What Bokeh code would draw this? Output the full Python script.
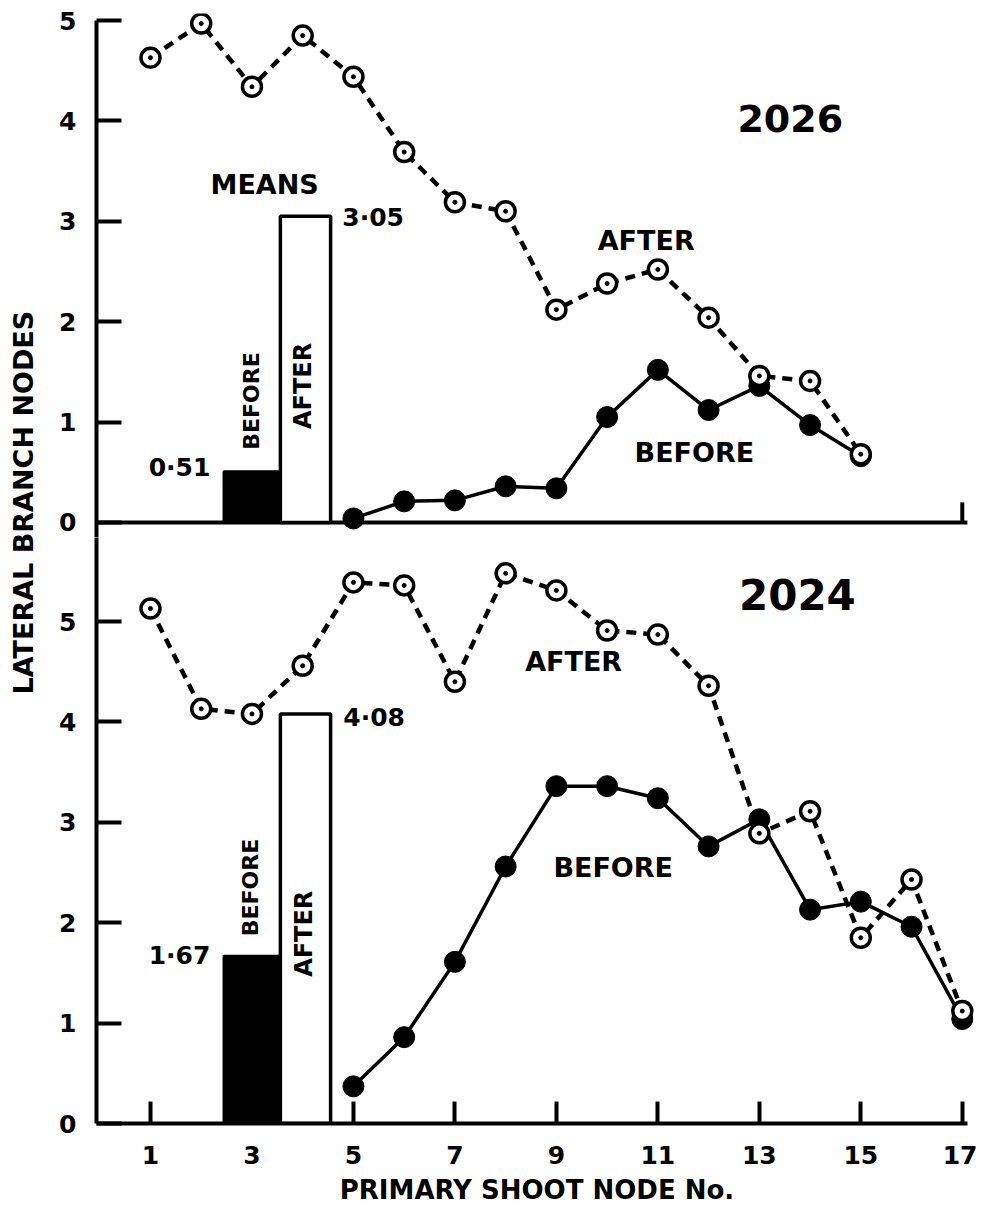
import math
from bokeh.plotting import figure
from bokeh.layouts import row, column
from bokeh.models import Range1d, FixedTicker, Label
from bokeh.embed import file_html
from bokeh.resources import INLINE

# ---------------- data ----------------
NODES_2026_AFTER = list(range(1, 16))
AFTER_2026 = [4.63, 4.97, 4.34, 4.85, 4.44, 3.69, 3.19, 3.10, 2.12, 2.38, 2.52, 2.04, 1.46, 1.41, 0.68]
NODES_2026_BEFORE = list(range(5, 16))
BEFORE_2026 = [0.04, 0.21, 0.22, 0.36, 0.34, 1.05, 1.52, 1.12, 1.36, 0.97, 0.66]

NODES_2024_AFTER = list(range(1, 18))
AFTER_2024 = [5.13, 4.13, 4.08, 4.56, 5.39, 5.36, 4.40, 5.48, 5.31, 4.91, 4.87, 4.36, 2.89, 3.11, 1.85, 2.43, 1.12]
NODES_2024_BEFORE = list(range(5, 18))
BEFORE_2024 = [0.37, 0.86, 1.61, 2.56, 3.36, 3.36, 3.24, 2.76, 3.03, 2.13, 2.21, 1.96, 1.04]

MEANS_2026 = [0.51, 3.05]   # before, after
MEANS_2024 = [1.67, 4.08]

X_TICKS = [1, 3, 5, 7, 9, 11, 13, 15, 17]
Y_TICKS = [0, 1, 2, 3, 4, 5]

# ---------------- style / layout ----------------
FONT = "DejaVu Sans"
BAR_LEFT = [2.44, 3.56]
BAR_RIGHT = [3.56, 4.55]
LW_AXIS = 4
FIG_W = 933
X_START, X_AXIS_END, X_END = -0.064, 17.1, 17.3
X_RANGE = Range1d(X_START, X_END)


def fmt(v):
    return f"{v:.2f}".replace(".", "\u00b7")


def make_panel(height, y_start, y_end, b_top, b_bottom):
    p = figure(width=FIG_W, height=height, x_range=X_RANGE,
               y_range=Range1d(y_start, y_end), output_backend="svg",
               toolbar_location=None, min_border_left=52, min_border_right=0,
               min_border_top=b_top, min_border_bottom=b_bottom)
    p.grid.visible = False
    p.outline_line_color = None
    p.background_fill_color = "white"
    ya = p.yaxis[0]
    ya.ticker = FixedTicker(ticks=Y_TICKS)
    ya.axis_line_width = LW_AXIS
    ya.major_tick_line_width = LW_AXIS
    ya.major_tick_in = 25
    ya.major_tick_out = 0
    ya.minor_tick_line_color = None
    ya.major_label_standoff = 20
    ya.major_label_text_font = FONT
    ya.major_label_text_font_style = "bold"
    ya.major_label_text_font_size = "25px"
    ya.major_label_text_color = "black"
    return p


def txt(p, x, y, s, size, align="center", angle=0.0):
    p.add_layout(Label(x=x, y=y, text=s, text_font=FONT, text_font_style="bold",
                       text_font_size=f"{size}px", text_align=align,
                       text_baseline="middle", angle=angle, text_color="black"))


def draw_series(p, means, nb, before, na, after):
    # mean bars
    p.quad(left=[BAR_LEFT[0]], right=[BAR_RIGHT[0]], bottom=[0], top=[means[0]],
           fill_color="black", line_color="black", line_width=2)
    p.quad(left=[BAR_LEFT[1]], right=[BAR_RIGHT[1]], bottom=[0], top=[means[1]],
           fill_color="white", line_color="black", line_width=3.5)
    # before: solid line, filled circles
    p.line(nb, before, line_color="black", line_width=3.5)
    p.scatter(nb, before, marker="circle", size=21, fill_color="black", line_color="black")
    # after: dashed line, open circles with centre dot
    p.line(na, after, line_color="black", line_width=4.5, line_dash="10 7")
    p.scatter(na, after, marker="circle", size=19, fill_color="white",
              line_color="black", line_width=3.5)
    p.scatter(na, after, marker="circle", size=4, fill_color="black", line_color="black")


# ---------------- top panel (2026) ----------------
top = make_panel(537, -0.15, 5.07, 13, 0)
top.xaxis.visible = False
top.yaxis[0].bounds = (-0.15, 5)
top.segment(x0=[X_START], y0=[0], x1=[X_AXIS_END], y1=[0], line_color="black",
            line_width=LW_AXIS)
top.segment(x0=[X_TICKS[-1]], y0=[0], x1=[X_TICKS[-1]], y1=[0.2], line_color="black",
            line_width=LW_AXIS)
draw_series(top, MEANS_2026, NODES_2026_BEFORE, BEFORE_2026, NODES_2026_AFTER, AFTER_2026)

txt(top, 3.25, 3.37, "MEANS", 27)
txt(top, 4.78, 3.04, fmt(MEANS_2026[1]), 25, align="left")
txt(top, 2.18, 0.55, fmt(MEANS_2026[0]), 25, align="right")
txt(top, 2.99, 1.21, "BEFORE", 22, angle=math.pi / 2)
txt(top, 4.01, 1.36, "AFTER", 24, angle=math.pi / 2)
txt(top, 10.77, 2.81, "AFTER", 27)
txt(top, 11.72, 0.70, "BEFORE", 27)
txt(top, 13.61, 4.02, "2026", 38)

# ---------------- bottom panel (2024) ----------------
bot = make_panel(670, 0, 5.837, 0, 84)
xa = bot.xaxis[0]
xa.bounds = (X_START, X_AXIS_END)
xa.ticker = FixedTicker(ticks=X_TICKS)
xa.axis_line_width = LW_AXIS
xa.major_tick_line_width = LW_AXIS
xa.major_tick_in = 22
xa.major_tick_out = 0
xa.minor_tick_line_color = None
xa.major_label_standoff = 22
xa.major_label_text_font = FONT
xa.major_label_text_font_style = "bold"
xa.major_label_text_font_size = "25px"
xa.major_label_text_color = "black"
xa.axis_label = "PRIMARY SHOOT NODE No."
xa.axis_label_text_font = FONT
xa.axis_label_text_font_style = "bold"
xa.axis_label_text_font_size = "26px"
xa.axis_label_text_color = "black"
xa.axis_label_standoff = 8
draw_series(bot, MEANS_2024, NODES_2024_BEFORE, BEFORE_2024, NODES_2024_AFTER, AFTER_2024)

txt(bot, 4.80, 4.04, fmt(MEANS_2024[1]), 25, align="left")
txt(bot, 2.18, 1.67, fmt(MEANS_2024[0]), 25, align="right")
txt(bot, 2.97, 2.35, "BEFORE", 22, angle=math.pi / 2)
txt(bot, 4.03, 1.89, "AFTER", 24, angle=math.pi / 2)
txt(bot, 9.34, 4.60, "AFTER", 27)
txt(bot, 10.12, 2.55, "BEFORE", 27)
txt(bot, 13.75, 5.27, "2024", 42)

# ---------------- y axis title column ----------------
lab = figure(width=44, height=1207, x_range=Range1d(0, 1), y_range=Range1d(0, 1),
             output_backend="svg", toolbar_location=None, min_border=0)
lab.axis.visible = False
lab.grid.visible = False
lab.outline_line_color = None
lab.add_layout(Label(x=0.523, y=0.584, text="LATERAL BRANCH NODES", text_font=FONT,
                     text_font_style="bold", text_font_size="27px", text_align="center",
                     text_baseline="middle", angle=math.pi / 2, text_color="black"))

layout = row(lab, column(top, bot, spacing=0), spacing=0)
open("out.html", "w").write(file_html(layout, INLINE))
